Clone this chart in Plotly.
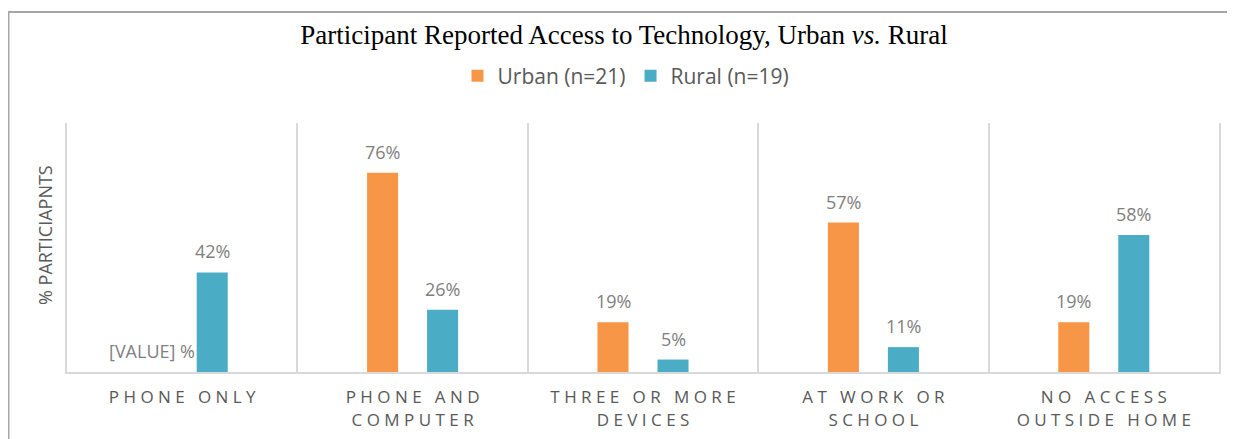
import plotly.graph_objects as go

# ---- data ----
categories = ["Phone only", "Phone and computer", "Three or more devices", "At work or school", "No access outside home"]
tick_labels = ["PHONE ONLY", "PHONE AND<br>COMPUTER", "THREE OR MORE<br>DEVICES", "AT WORK OR<br>SCHOOL", "NO ACCESS<br>OUTSIDE HOME"]
urban_counts = [0, 16, 4, 12, 4]      # participants (n=21)
rural_counts = [8, 5, 1, 2, 11]       # participants (n=19)
urban_labels = ["[VALUE] %", "76%", "19%", "57%", "19%"]
rural_labels = ["42%", "26%", "5%", "11%", "58%"]
series_names = ["Urban (n=21)", "Rural (n=19)"]

ORANGE = "#F79646"
TEAL = "#4BACC6"
GRID = "#D9D9D9"
TXT = "#595959"
LBL = "#7F7F7F"

# page body has an 8px margin: work in screen pixels and subtract it
OFF = 8
W, H = 1235, 439
L, R, T, B = 67 - OFF, 16 + OFF, 123 - OFF, 67 + OFF
pw, ph = W - L - R, H - T - B


def px_x(px):
    return (px - OFF - L) / pw


def px_y(py):
    return (H - B - (py - OFF)) / ph


def spaced(label):
    lines = label.split("<br>")
    out = []
    for ln in lines:
        words = ln.split(" ")
        out.append("\u00a0\u00a0\u00a0".join("\u00a0".join(list(w)) for w in words))
    return "<br>".join(out)


fig = go.Figure()
fig.add_trace(go.Bar(x=categories, y=urban_counts, name=series_names[0],
                     marker=dict(color=ORANGE, line=dict(width=0))))
fig.add_trace(go.Bar(x=categories, y=rural_counts, name=series_names[1],
                     marker=dict(color=TEAL, line=dict(width=0))))

annotations = []
for cat, v, t in zip(categories, urban_counts, urban_labels):
    annotations.append(dict(x=cat, y=v, text=t, showarrow=False, xshift=-30, yshift=21,
                            font=dict(family="Open Sans", size=18, color=LBL)))
for cat, v, t in zip(categories, rural_counts, rural_labels):
    annotations.append(dict(x=cat, y=v, text=t, showarrow=False, xshift=30, yshift=21,
                            font=dict(family="Open Sans", size=18, color=LBL)))

annotations.append(dict(xref="paper", yref="paper", x=px_x(45), y=px_y(235),
                        text="% PARTICIAPNTS", textangle=-90, showarrow=False,
                        xanchor="center", yanchor="middle",
                        font=dict(family="Open Sans", size=18, color=TXT)))

shapes = [
    dict(type="line", xref="paper", yref="paper", x0=px_x(4), x1=px_x(1250), y0=px_y(12), y1=px_y(12),
         line=dict(color="#A6A6A6", width=2)),
    dict(type="line", xref="paper", yref="paper", x0=px_x(8.5), x1=px_x(8.5), y0=px_y(12), y1=px_y(460),
         line=dict(color="#A6A6A6", width=2)),
]

fig.update_layout(
    width=W, height=H,
    margin=dict(l=L, r=R, t=T, b=B),
    paper_bgcolor="white", plot_bgcolor="white",
    barmode="group", bargap=0.479, bargroupgap=0.483,
    title=dict(text="Participant Reported Access to Technology, Urban <i>vs.</i> Rural",
               x=(624 - OFF) / W, xref="container", xanchor="center",
               y=1 - (35 - OFF) / H, yref="container", yanchor="middle",
               font=dict(family="Liberation Serif", size=27, color="black")),
    legend=dict(orientation="h", x=px_x(626), y=px_y(76), xanchor="center", yanchor="middle",
                font=dict(family="Open Sans", size=21, color=TXT), itemwidth=30,
                bgcolor="rgba(0,0,0,0)"),
    showlegend=True,
    annotations=annotations,
    shapes=shapes,
    hovermode=False,
)
fig.update_xaxes(type="category", tickvals=categories, ticktext=[spaced(t) for t in tick_labels],
                 tickson="boundaries", showgrid=True, gridcolor=GRID, gridwidth=2,
                 showline=True, linecolor=GRID, linewidth=2, ticks="",
                 tickfont=dict(family="Open Sans", size=17, color=TXT),
                 ticklabelstandoff=9, range=[-0.5, 4.5])
fig.update_yaxes(range=[0, 20], showticklabels=False, showgrid=False, zeroline=False,
                 showline=True, mirror=True, linecolor=GRID, linewidth=2, ticks="")

fig.write_html("out.html")
